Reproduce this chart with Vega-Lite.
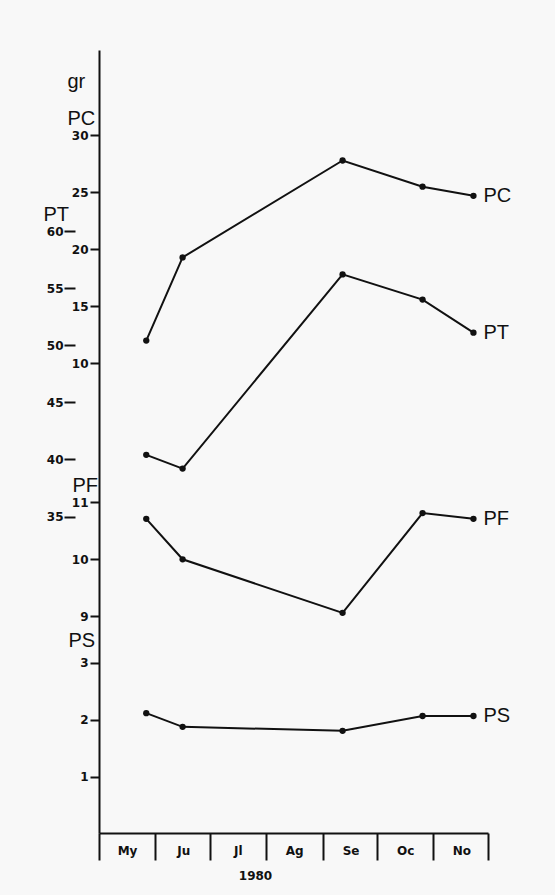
{
  "$schema": "https://vega.github.io/schema/vega-lite/v6.json",
  "width": 389,
  "height": 783,
  "autosize": "none",
  "padding": {"left": 99, "top": 50, "right": 67, "bottom": 62},
  "background": "#f8f8f8",
  "config": {
    "view": {"stroke": null},
    "axis": {
      "grid": false,
      "domainColor": "#111111",
      "tickColor": "#111111",
      "labelColor": "#111111",
      "titleColor": "#111111",
      "labelFont": "DejaVu Sans",
      "labelFontWeight": "bold",
      "labelFontSize": 12,
      "domainWidth": 2,
      "tickWidth": 2
    }
  },
  "data": {
    "values": [
      {"series": "PC", "date": "1980-05-27", "value": 12.0},
      {"series": "PC", "date": "1980-06-16", "value": 19.3},
      {"series": "PC", "date": "1980-09-12", "value": 27.8},
      {"series": "PC", "date": "1980-10-26", "value": 25.5},
      {"series": "PC", "date": "1980-11-23", "value": 24.7, "label": "PC"},
      {"series": "PT", "date": "1980-05-27", "value": 40.4},
      {"series": "PT", "date": "1980-06-16", "value": 39.2},
      {"series": "PT", "date": "1980-09-12", "value": 56.2},
      {"series": "PT", "date": "1980-10-26", "value": 54.0},
      {"series": "PT", "date": "1980-11-23", "value": 51.1, "label": "PT"},
      {"series": "PF", "date": "1980-05-27", "value": 10.71},
      {"series": "PF", "date": "1980-06-16", "value": 10.0},
      {"series": "PF", "date": "1980-09-12", "value": 9.06},
      {"series": "PF", "date": "1980-10-26", "value": 10.81},
      {"series": "PF", "date": "1980-11-23", "value": 10.71, "label": "PF"},
      {"series": "PS", "date": "1980-05-27", "value": 2.12},
      {"series": "PS", "date": "1980-06-16", "value": 1.88},
      {"series": "PS", "date": "1980-09-12", "value": 1.81},
      {"series": "PS", "date": "1980-10-26", "value": 2.07},
      {"series": "PS", "date": "1980-11-23", "value": 2.07, "label": "PS"}
    ]
  },
  "encoding": {
    "x": {
      "field": "date",
      "type": "temporal",
      "scale": {
        "type": "utc",
        "domain": [
          {"year": 1980, "month": 5, "date": 1, "utc": true},
          {"year": 1980, "month": 12, "date": 1, "utc": true}
        ]
      },
      "axis": {
        "values": [
          {"year": 1980, "month": 5, "date": 1, "utc": true},
          {"year": 1980, "month": 6, "date": 1, "utc": true},
          {"year": 1980, "month": 7, "date": 1, "utc": true},
          {"year": 1980, "month": 8, "date": 1, "utc": true},
          {"year": 1980, "month": 9, "date": 1, "utc": true},
          {"year": 1980, "month": 10, "date": 1, "utc": true},
          {"year": 1980, "month": 11, "date": 1, "utc": true},
          {"year": 1980, "month": 12, "date": 1, "utc": true}
        ],
        "labelExpr": "['My','Ju','Jl','Ag','Se','Oc','No',''][utcmonth(datum.value)-4]",
        "labelOffset": 28,
        "labelFlush": false,
        "labelOverlap": false,
        "labelBound": false,
        "tickSize": 27,
        "labelPadding": -10,
        "labelBaseline": "middle",
        "labelFontSize": 12,
        "title": "1980",
        "titleX": 156,
        "titleY": 42,
        "titleBaseline": "middle",
        "titleFont": "DejaVu Sans",
        "titleFontWeight": "bold",
        "titleFontSize": 12
      }
    }
  },
  "layer": [
    {
      "transform": [{"filter": "datum.series == 'PC'"}],
      "encoding": {
        "y": {
          "field": "value",
          "type": "quantitative",
          "scale": {"domain": [-31.19, 37.49], "nice": false, "zero": false},
          "axis": {
            "orient": "left",
            "values": [10, 15, 20, 25, 30],
            "tickSize": 9,
            "labelPadding": 2,
            "domain": true,
            "title": ["gr", "PC"],
            "titleAngle": 0,
            "titleX": -32,
            "titleY": 37,
            "titleAlign": "left",
            "titleBaseline": "alphabetic",
            "titleFont": "Liberation Sans",
            "titleFontSize": 20,
            "titleFontWeight": "normal",
            "titleLineHeight": 37
          }
        }
      },
      "layer": [
        {"mark": {"type": "line", "color": "#111111", "strokeWidth": 2}},
        {"mark": {"type": "point", "filled": true, "color": "#111111", "size": 40, "opacity": 1}},
        {
          "transform": [{"filter": "datum.label"}],
          "mark": {"type": "text", "align": "left", "baseline": "middle", "dx": 10, "font": "Liberation Sans", "fontSize": 20, "color": "#111111"},
          "encoding": {"text": {"field": "label"}}
        }
      ]
    },
    {
      "transform": [{"filter": "datum.series == 'PT'"}],
      "encoding": {
        "y": {
          "field": "value",
          "type": "quantitative",
          "scale": {"domain": [7.29, 75.85], "nice": false, "zero": false},
          "axis": {
            "orient": "left",
            "offset": 24,
            "values": [35, 40, 45, 50, 55, 60],
            "tickSize": 11,
            "labelPadding": 1,
            "domain": false,
            "title": "PT",
            "titleAngle": 0,
            "titleX": -32,
            "titleY": 170,
            "titleAlign": "left",
            "titleBaseline": "alphabetic",
            "titleFont": "Liberation Sans",
            "titleFontSize": 20,
            "titleFontWeight": "normal"
          }
        }
      },
      "layer": [
        {"mark": {"type": "line", "color": "#111111", "strokeWidth": 2}},
        {"mark": {"type": "point", "filled": true, "color": "#111111", "size": 40, "opacity": 1}},
        {
          "transform": [{"filter": "datum.label"}],
          "mark": {"type": "text", "align": "left", "baseline": "middle", "dx": 10, "font": "Liberation Sans", "fontSize": 20, "color": "#111111"},
          "encoding": {"text": {"field": "label"}}
        }
      ]
    },
    {
      "transform": [{"filter": "datum.series == 'PF'"}],
      "encoding": {
        "y": {
          "field": "value",
          "type": "quantitative",
          "scale": {"domain": [5.198, 18.935], "nice": false, "zero": false},
          "axis": {
            "orient": "left",
            "values": [9, 10, 11],
            "tickSize": 9,
            "labelPadding": 2,
            "domain": false,
            "title": "PF",
            "titleAngle": 0,
            "titleX": -27,
            "titleY": 441,
            "titleAlign": "left",
            "titleBaseline": "alphabetic",
            "titleFont": "Liberation Sans",
            "titleFontSize": 20,
            "titleFontWeight": "normal"
          }
        }
      },
      "layer": [
        {"mark": {"type": "line", "color": "#111111", "strokeWidth": 2}},
        {"mark": {"type": "point", "filled": true, "color": "#111111", "size": 40, "opacity": 1}},
        {
          "transform": [{"filter": "datum.label"}],
          "mark": {"type": "text", "align": "left", "baseline": "middle", "dx": 10, "font": "Liberation Sans", "fontSize": 20, "color": "#111111"},
          "encoding": {"text": {"field": "label"}}
        }
      ]
    },
    {
      "transform": [{"filter": "datum.series == 'PS'"}],
      "encoding": {
        "y": {
          "field": "value",
          "type": "quantitative",
          "scale": {"domain": [0.0175, 13.754], "nice": false, "zero": false},
          "axis": {
            "orient": "left",
            "values": [1, 2, 3],
            "tickSize": 9,
            "labelPadding": 2,
            "domain": false,
            "title": "PS",
            "titleAngle": 0,
            "titleX": -31,
            "titleY": 596,
            "titleAlign": "left",
            "titleBaseline": "alphabetic",
            "titleFont": "Liberation Sans",
            "titleFontSize": 20,
            "titleFontWeight": "normal"
          }
        }
      },
      "layer": [
        {"mark": {"type": "line", "color": "#111111", "strokeWidth": 2}},
        {"mark": {"type": "point", "filled": true, "color": "#111111", "size": 40, "opacity": 1}},
        {
          "transform": [{"filter": "datum.label"}],
          "mark": {"type": "text", "align": "left", "baseline": "middle", "dx": 10, "font": "Liberation Sans", "fontSize": 20, "color": "#111111"},
          "encoding": {"text": {"field": "label"}}
        }
      ]
    }
  ],
  "resolve": {"scale": {"y": "independent"}, "axis": {"y": "independent"}}
}
